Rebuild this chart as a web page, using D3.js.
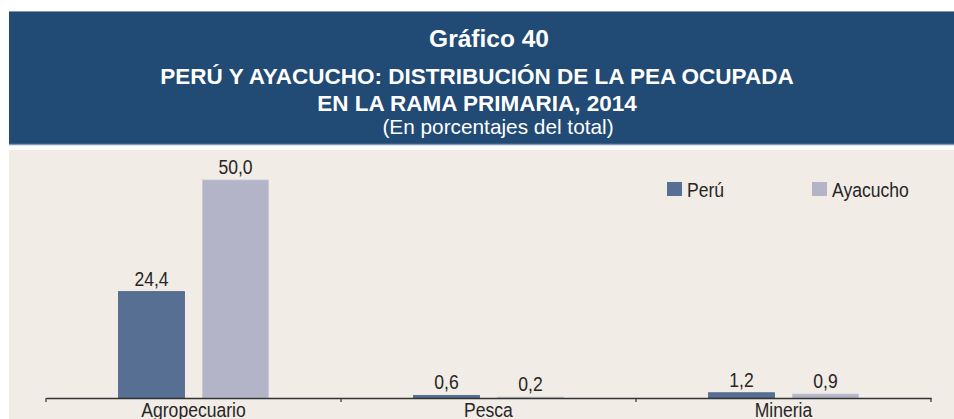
<!DOCTYPE html>
<html>
<head>
<meta charset="utf-8">
<script src="https://cdn.jsdelivr.net/npm/d3@7"></script>
<style>
  html, body { margin: 0; padding: 0; background: #ffffff; }
  svg { display: block; }
</style>
</head>
<body>
<svg id="chart" width="954" height="419"></svg>
<script>
// ---- data ----
const categories = ["Agropecuario", "Pesca", "Mineria"];
const seriesNames = ["Perú", "Ayacucho"];
const peru = [24.4, 0.6, 1.2];
const ayacucho = [50.0, 0.2, 0.9];
const titleLines = [
  "Gráfico 40",
  "PERÚ Y AYACUCHO: DISTRIBUCIÓN DE LA PEA OCUPADA",
  "EN LA RAMA PRIMARIA, 2014"
];
const subtitle = "(En porcentajes del total)";

// ---- styles ----
const colors = { "Perú": "#566f93", "Ayacucho": "#b4b4c8" };
const strokes = { "Perú": "#4a6388", "Ayacucho": "#c6c6d6" };
const sans = "'Liberation Sans', Arial, sans-serif";
const NARROW = 0.9;   // horizontal squeeze to imitate a narrow face

const svg = d3.select("#chart");
const W = 954, H = 419;

function narrowText(sel, x, y, anchor, size) {
  return sel.append("text")
    .attr("transform", `translate(${x},${y}) scale(${NARROW},1)`)
    .attr("text-anchor", anchor)
    .attr("fill", "#262626")
    .attr("font-family", sans).attr("font-size", size);
}

// header band
svg.append("rect").attr("x", 9).attr("y", 11).attr("width", W - 9).attr("height", 133)
  .attr("fill", "#214a75");
svg.append("line").attr("x1", 9).attr("x2", W).attr("y1", 11.5).attr("y2", 11.5)
  .attr("stroke", "#7f97b5").attr("stroke-width", 1);
svg.append("line").attr("x1", 9).attr("x2", W).attr("y1", 144.5).attr("y2", 144.5)
  .attr("stroke", "#7f97b5").attr("stroke-width", 1.5);

const titleX = [489, 477, 477];
const titleY = [47, 84, 111];
const titleSize = [24.5, 22.5, 22.5];
titleLines.forEach((t, i) => {
  svg.append("text").attr("x", titleX[i]).attr("y", titleY[i])
    .attr("text-anchor", "middle").attr("fill", "#ffffff")
    .attr("font-family", sans).attr("font-weight", "bold").attr("font-size", titleSize[i])
    .text(t);
});
svg.append("text").attr("x", 498).attr("y", 134)
  .attr("text-anchor", "middle").attr("fill", "#ffffff")
  .attr("font-family", sans).attr("font-size", 20.8)
  .text(subtitle);

// chart background
svg.append("rect").attr("x", 9).attr("y", 150).attr("width", W - 9).attr("height", H - 150)
  .attr("fill", "#f1ece6");

// scales
const x0 = d3.scaleBand().domain(categories).range([46, 931]).paddingInner(0).paddingOuter(0);
const x1 = d3.scaleBand().domain(seriesNames).range([72.5, 222.5]).paddingInner(18 / 84).paddingOuter(0);
const y = d3.scaleLinear().domain([0, 50]).range([398, 180]);

const locale = d3.formatLocale({ decimal: ",", thousands: ".", grouping: [3], currency: ["", ""] });
const fmt = locale.format(".1f");

const rows = categories.map((c, i) => ({ cat: c, values: [
  { s: "Perú", v: peru[i] }, { s: "Ayacucho", v: ayacucho[i] }
]}));

const g = svg.append("g");
const groups = g.selectAll("g.grp").data(rows).join("g")
  .attr("transform", d => `translate(${x0(d.cat)},0)`);

groups.selectAll("rect").data(d => d.values).join("rect")
  .attr("x", d => x1(d.s))
  .attr("width", x1.bandwidth())
  .attr("y", d => y(d.v))
  .attr("height", d => y(0) - y(d.v))
  .attr("fill", d => colors[d.s])
  .attr("stroke", d => strokes[d.s])
  .attr("stroke-width", 0.8);

groups.each(function (d) {
  const grp = d3.select(this);
  d.values.forEach(v => {
    narrowText(grp, x1(v.s) + x1.bandwidth() / 2, y(v.v) - 6, "middle", 19.5).text(fmt(v.v));
  });
});

// axis
const axis = d3.axisBottom(x0).tickSize(0).tickPadding(0);
const ax = svg.append("g").attr("transform", `translate(0,${y(0)})`).call(axis);
ax.select(".domain").attr("stroke", "#333333").attr("stroke-width", 1.3);
ax.selectAll(".tick text").remove();
const bounds = [0, 1, 2, 3].map(i => 46 + i * x0.step());
ax.selectAll("line.bt").data(bounds).join("line").attr("class", "bt")
  .attr("x1", d => d).attr("x2", d => d).attr("y1", 0).attr("y2", 4)
  .attr("stroke", "#333333").attr("stroke-width", 1.2);
categories.forEach(c => {
  narrowText(ax, x0(c) + x0.bandwidth() / 2, 18.5, "middle", 19.5).text(c);
});

// legend
const legX = [667, 812];
const leg = svg.append("g");
seriesNames.forEach((s, i) => {
  leg.append("rect").attr("x", legX[i]).attr("y", 182).attr("width", 15).attr("height", 14)
    .attr("fill", colors[s]);
  narrowText(leg, legX[i] + 20, 196.5, "start", 19.5).text(s);
});
</script>
</body>
</html>
